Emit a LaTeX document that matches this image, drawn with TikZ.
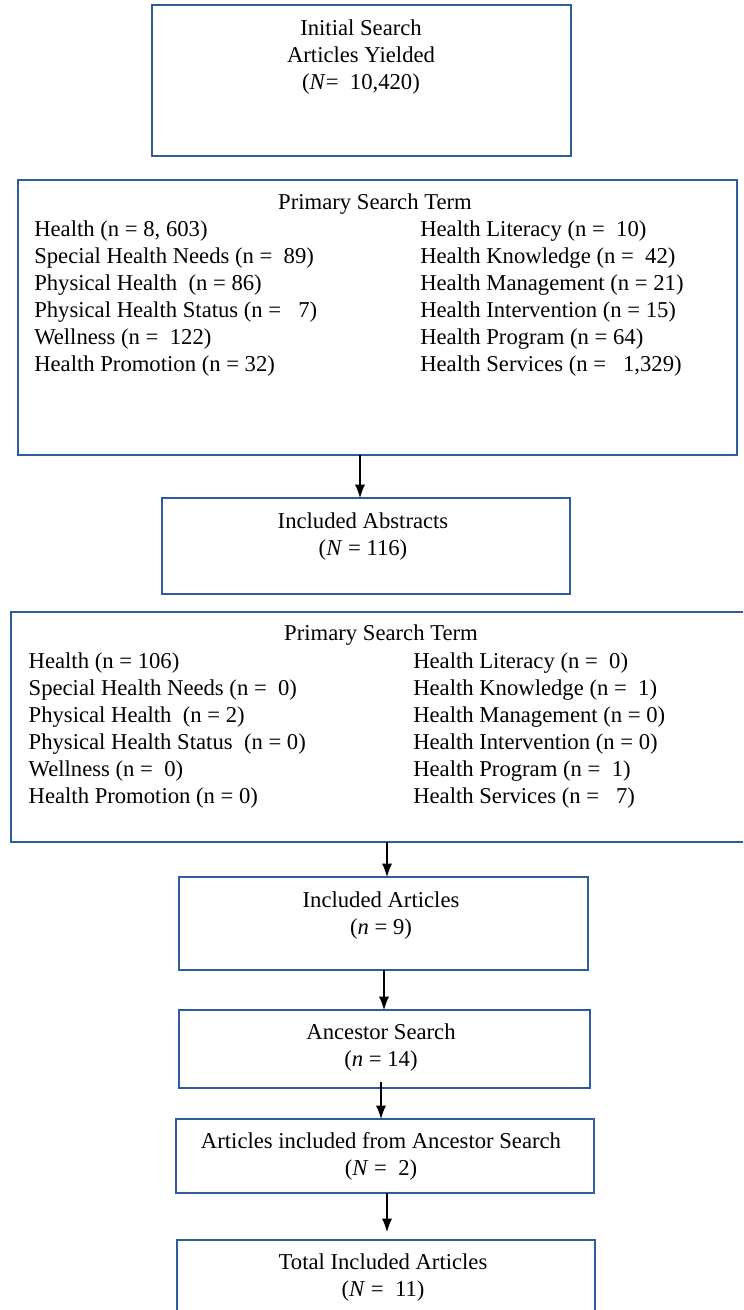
\documentclass[tikz,border=0pt]{standalone}
\usepackage{fontspec}
\setmainfont{Liberation Serif}
\usepackage{xcolor}
\usepackage{tikz}
\usetikzlibrary{arrows.meta,positioning,calc}
\definecolor{boxblue}{RGB}{46,92,160}
\newcommand{\pxu}{0.75pt}

\tikzset{
  stagebox/.style={draw=boxblue,line width=1.1pt,rectangle,inner sep=0pt,outer sep=0pt},
  stagetext/.style={align=center,inner sep=0pt},
  termitem/.style={anchor=west,inner sep=0pt},
  flow/.style={draw=black,line width=0.85pt,-{Latex[length=10pt,width=7.5pt]}}
}

\begin{document}
\begin{tikzpicture}[x=0.75pt,y=-0.75pt,font=\fontsize{17pt}{20.25pt}\selectfont]
  \useasboundingbox (0,0) rectangle (743,1310);
  \clip (0,0) rectangle (743,1310);

  % boxes
  \node[stagebox,minimum width=419*\pxu,minimum height=151*\pxu] (init) at (361.5,80.5) {};
  \node[stagebox,minimum width=719*\pxu,minimum height=275*\pxu] (terma) at (377.3,317.5) {};
  \node[stagebox,minimum width=408*\pxu,minimum height=96*\pxu] (abstr) at (366,546) {};
  \node[stagebox,minimum width=759*\pxu,minimum height=230*\pxu] (termb) at (390.7,727) {};
  \node[stagebox,minimum width=409*\pxu,minimum height=93*\pxu] (incl) at (383.5,923.5) {};
  \node[stagebox,minimum width=411*\pxu,minimum height=78*\pxu] (ances) at (384.5,1049) {};
  \node[stagebox,minimum width=418*\pxu,minimum height=74*\pxu] (fromanc) at (385,1156) {};
  \node[stagebox,minimum width=418*\pxu,minimum height=100*\pxu] (total) at (386,1290) {};

  % box texts
  \node[stagetext] (initt) at (361,57) {Initial Search\\Articles Yielded\\(\textit{N}=\ \ 10,420)};
  \node[stagetext] (termat) at (375,204) {Primary Search Term};
  \node[stagetext] (abstrt) at (363,537) {Included Abstracts\\(\textit{N} = 116)};
  \node[stagetext] (termbt) at (381,635) {Primary Search Term};
  \node[stagetext] (inclt) at (381,915.5) {Included Articles\\(\textit{n} = 9)};
  \node[stagetext] (ancest) at (381,1048) {Ancestor Search\\(\textit{n} = 14)};
  \node[stagetext] (fromanct) at (381,1156.5) {Articles included from Ancestor Search\\(\textit{N} =\ \ 2)};
  \node[stagetext] (totalt) at (383,1278) {Total Included Articles\\(\textit{N} =\ \ 11)};

  % first list of search terms
  \foreach \t [count=\k] in {{Health (n = 8, 603)},{Special Health Needs (n =\ \ 89)},
      {Physical Health\ \ (n = 86)},{Physical Health Status (n =\ \ \ 7)},
      {Wellness (n =\ \ 122)},{Health Promotion (n = 32)}}
    \node[termitem] (ta\k) at (34,204+27*\k) {\t};
  \foreach \t [count=\k] in {{Health Literacy (n =\ \ 10)},{Health Knowledge (n =\ \ 42)},
      {Health Management (n = 21)},{Health Intervention (n = 15)},
      {Health Program (n = 64)},{Health Services (n =\ \ \ 1,329)}}
    \node[termitem] (tr\k) at (420,204+27*\k) {\t};

  % second list of search terms
  \foreach \t [count=\k] in {{Health (n = 106)},{Special Health Needs (n =\ \ 0)},
      {Physical Health\ \ (n = 2)},{Physical Health Status\ \ (n = 0)},
      {Wellness (n =\ \ 0)},{Health Promotion (n = 0)}}
    \node[termitem] (tb\k) at (28.4,636+27*\k) {\t};
  \foreach \t [count=\k] in {{Health Literacy (n =\ \ 0)},{Health Knowledge (n =\ \ 1)},
      {Health Management (n = 0)},{Health Intervention (n = 0)},
      {Health Program (n =\ \ 1)},{Health Services (n =\ \ \ 7)}}
    \node[termitem] (ts\k) at (413,636+27*\k) {\t};

  % arrows
  \draw[flow] (terma.south -| 360,0) -- (abstr.north -| 360,0);
  \draw[flow] (termb.south -| 387,0) -- (incl.north -| 387,0);
  \draw[flow] (incl.south -| 384,0) -- (ances.north -| 384,0);
  \draw[flow] ([yshift=4.5pt]ances.south -| 381,0) -- (fromanc.north -| 381,0);
  \draw[flow,shorten >=6pt] (fromanc.south -| 387,0) -- (total.north -| 387,0);
\end{tikzpicture}
\end{document}
